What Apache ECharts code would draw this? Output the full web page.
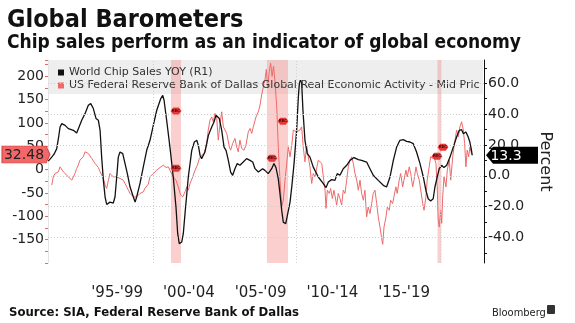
<!DOCTYPE html>
<html><head><meta charset="utf-8">
<script src="https://cdn.jsdelivr.net/npm/echarts@6/dist/echarts.min.js"></script>
<style>html,body{margin:0;padding:0;background:#fff}#c{width:575px;height:323px}</style>
</head><body><div id="c"></div>
<script>
// World Chip Sales YoY (%), right axis
const chipYears = [1992.70,1992.94,1993.10,1993.29,1993.42,1993.52,1993.64,1993.87,1994.10,1994.22,1994.45,1994.68,1994.80,1995.03,1995.26,1995.49,1995.66,1995.84,1996.03,1996.19,1996.31,1996.42,1996.54,1996.66,1996.77,1997.00,1997.23,1997.35,1997.47,1997.58,1997.70,1997.89,1998.05,1998.21,1998.40,1998.63,1998.75,1998.86,1999.09,1999.32,1999.56,1999.79,2000.02,2000.26,2000.54,2000.68,2000.77,2000.95,2001.18,2001.41,2001.60,2001.72,2001.83,2002.00,2002.11,2002.23,2002.46,2002.70,2002.88,2003.05,2003.16,2003.28,2003.39,2003.62,2003.86,2004.09,2004.25,2004.39,2004.51,2004.62,2004.79,2004.95,2005.09,2005.25,2005.41,2005.55,2005.71,2005.87,2006.06,2006.29,2006.52,2006.76,2006.95,2007.11,2007.34,2007.46,2007.64,2007.80,2008.03,2008.27,2008.43,2008.57,2008.73,2008.85,2008.97,2009.08,2009.25,2009.39,2009.55,2009.67,2009.83,2010.01,2010.13,2010.20,2010.27,2010.36,2010.45,2010.59,2010.75,2010.94,2011.17,2011.52,2011.87,2012.06,2012.22,2012.45,2012.68,2012.84,2013.03,2013.26,2013.50,2013.73,2014.01,2014.31,2014.54,2014.89,2015.12,2015.35,2015.70,2016.05,2016.28,2016.52,2016.75,2016.98,2017.21,2017.44,2017.68,2017.91,2018.14,2018.37,2018.61,2018.84,2019.02,2019.18,2019.35,2019.53,2019.65,2019.81,2019.95,2020.12,2020.28,2020.47,2020.70,2020.93,2021.16,2021.35,2021.51,2021.63,2021.81,2021.97,2022.08,2022.18,2022.25];
const chipYoY = [9.5,12.1,14.0,17.6,25.0,31.6,33.8,32.7,30.6,31.6,29.5,27.7,28.4,36.0,40.3,45.7,46.8,43.6,37.1,36.0,29.5,12.1,-3.0,-13.8,-18.6,-17.1,-17.7,-13.8,-0.8,12.1,15.4,14.4,7.9,1.4,-7.3,-13.8,-17.1,-13.8,-5.1,5.6,16.5,23.0,32.7,42.5,50.1,52.2,49.0,36.0,18.6,-0.8,-20.3,-37.6,-44.1,-43.0,-37.6,-24.6,-0.8,16.5,21.9,23.0,19.7,13.2,11.1,15.4,26.2,31.6,34.9,39.2,40.3,37.1,29.5,18.6,16.5,10.0,2.4,0.3,4.6,7.9,6.8,8.9,11.1,10.0,8.9,4.6,2.4,1.4,4.6,3.5,1.4,4.6,7.9,5.3,-1.9,-11.6,-22.5,-30.1,-31.1,-24.6,-17.1,-7.3,7.9,29.5,51.1,59.8,62.0,60.5,42.5,23.0,14.4,12.1,5.6,-0.8,-5.1,-7.7,-4.1,-2.5,-3.0,1.4,0.3,4.6,6.8,10.0,11.8,10.5,10.0,8.9,4.6,0.3,-3.0,-6.2,-7.3,-0.8,10.0,18.6,23.0,23.4,22.3,21.9,20.8,15.4,7.9,-0.8,-9.5,-14.9,-16.4,-14.9,-7.3,-0.8,4.6,6.8,5.3,6.8,12.1,18.6,25.1,29.5,29.9,27.3,28.4,25.1,22.0,17.5,13.3];

// Dallas Fed Global Real Economic Activity index, left axis
const dallasYears = [1992.94,1993.05,1993.17,1993.29,1993.40,1993.52,1993.64,1993.75,1993.87,1994.10,1994.33,1994.45,1994.56,1994.68,1994.79,1994.91,1995.03,1995.14,1995.26,1995.38,1995.49,1995.61,1995.73,1995.84,1995.96,1996.08,1996.19,1996.31,1996.43,1996.54,1996.66,1996.77,1996.89,1997.00,1997.12,1997.23,1997.35,1997.47,1997.58,1997.70,1997.82,1997.93,1998.05,1998.17,1998.28,1998.40,1998.52,1998.63,1998.75,1998.86,1998.98,1999.09,1999.21,1999.32,1999.44,1999.56,1999.67,1999.79,2000.02,2000.26,2000.49,2000.72,2000.91,2001.07,2001.23,2001.41,2001.60,2001.76,2001.93,2002.07,2002.23,2002.35,2002.46,2002.58,2002.77,2002.93,2003.09,2003.23,2003.39,2003.55,2003.74,2003.85,2003.97,2004.09,2004.20,2004.32,2004.44,2004.55,2004.67,2004.79,2004.90,2005.02,2005.14,2005.25,2005.32,2005.41,2005.55,2005.71,2005.83,2005.94,2006.06,2006.18,2006.34,2006.48,2006.64,2006.76,2006.88,2006.99,2007.18,2007.34,2007.46,2007.57,2007.69,2007.80,2007.90,2007.98,2008.10,2008.20,2008.30,2008.40,2008.50,2008.62,2008.73,2008.85,2008.97,2009.08,2009.20,2009.32,2009.43,2009.55,2009.67,2009.78,2009.90,2010.01,2010.13,2010.24,2010.36,2010.47,2010.59,2010.71,2010.82,2010.94,2011.06,2011.17,2011.29,2011.41,2011.52,2011.64,2011.76,2011.87,2011.99,2012.06,2012.15,2012.29,2012.38,2012.50,2012.61,2012.70,2012.80,2012.91,2013.03,2013.15,2013.26,2013.38,2013.50,2013.61,2013.73,2013.85,2013.96,2014.08,2014.20,2014.31,2014.43,2014.54,2014.66,2014.77,2014.89,2015.00,2015.12,2015.24,2015.35,2015.47,2015.59,2015.70,2015.82,2015.94,2016.01,2016.10,2016.24,2016.33,2016.47,2016.56,2016.70,2016.79,2016.93,2017.02,2017.16,2017.26,2017.40,2017.49,2017.63,2017.72,2017.86,2017.96,2018.10,2018.19,2018.33,2018.42,2018.56,2018.66,2018.80,2018.89,2019.02,2019.11,2019.25,2019.35,2019.49,2019.58,2019.72,2019.81,2019.88,2019.95,2020.05,2020.12,2020.19,2020.28,2020.42,2020.51,2020.65,2020.75,2020.89,2020.98,2021.07,2021.16,2021.28,2021.39,2021.51,2021.63,2021.72,2021.81,2021.90,2022.00,2022.09,2022.21];
const dallasIdx = [-33,-15.4,-8.2,-11.8,-4.7,6,2.6,-4.7,-8.2,-15.4,-22.5,-15.4,-8.2,2.6,9.7,20.4,24,27.5,38.2,40.3,34.8,38.2,24,27.5,13.3,9.7,4.7,-4.7,-11.8,-18.9,-33.3,-40.3,-22.5,-8.2,-11.8,-15.4,-11.8,-15.4,-15.4,-18.9,-22.5,-22.5,-26,-36.9,-44,-51,-54.7,-58.4,-61.8,-58.4,-54.7,-51,-54.7,-47.6,-40,-36.9,-31,-15.4,-8.2,-1,4.7,9.7,4.7,6,-4.7,-15.4,-22.5,-36.9,-54.7,-58.4,-47.6,-36.9,-44,-29.6,-15.4,-1,9.7,24,31.1,33.3,56,84.8,106,113,102.6,120.6,110,63.3,99,124,91.8,95.5,77.7,74,49,41.8,56,67,49,38.2,63.3,45.5,41.8,52.6,81,88.4,77.7,91.8,113,124,138.4,160,177.7,192,215,175,210,228,200,222,190,135,49,-22.5,-80,-65,-22.5,13.3,49,27.5,52.6,84.8,88.4,81,84.8,84.8,91.8,49,16.7,52.6,27.5,6,-29.6,-8.2,-15.4,-11.8,20.4,24,13.3,-15.4,-44,-83,-44,-51,-40.3,-61.8,-44,-58.4,-76,-51,-61.8,-76,-44,-51,-22.5,6,20.4,27.5,13.3,-8.2,-22.5,-44,-22.5,-51,-65.5,-44,-101,-80,-94,-72.5,-51,-44,-72.5,-101,-123,-148,-160,-123,-101,-80,-87,-65.5,-72.5,-58.4,-36.9,-51,-22.5,-8.2,-36.9,-22.5,-1,-15.4,6,-8.2,-36.9,-22.5,6,-8.2,-22.5,-44,-72.5,-87,-58.4,-22.5,6,27.5,24,29,13.3,-36.9,-108,-123,-87,-115,-58.4,-15.4,-36.9,-1,20.4,-22.5,27.5,49,67,84.8,70.4,91.8,102.6,84.8,56,6,41.8,27.5,49,32.48];

const recessions = [[2001.25,2001.95],[2007.94,2009.41],[2019.83,2020.10]];
const xTickPos = [1997.5,2002.5,2007.5,2012.5,2017.5];
const xTickLabels = ["'95-'99","'00-'04","'05-'09","'10-'14","'15-'19"];
const rightLabelVals = [-40,-20,0,20,40,60];
const rightTickVals = [-50,-40,-30,-20,-10,0,10,20,30,40,50,60,70];
const vGridYears = [2000,2010,2020];
const recMarks = [[2001.6,125.5],[2001.6,3.2],[2008.29,24.7],[2009.06,104],[2020.21,48.3],[2019.79,29]];

const X_MIN = 1992.68, X_MAX = 2023.07;
const NAME_CHIP = 'World Chip Sales YOY (R1)';
const NAME_DAL = 'US Federal Reserve Bank of Dallas Global Real Economic Activity - Mid Price';
const FONT = "'DejaVu Sans', sans-serif";
const FONT_C = "'DejaVu Sans Condensed', 'DejaVu Sans', sans-serif";
const RED = '#ee6a6a';

const lastRed = dallasIdx[dallasIdx.length-1];
const lastChip = chipYoY[chipYoY.length-1];

const chart = echarts.init(document.getElementById('c'), null, {renderer:'canvas'});
chart.setOption({
  animation:false,
  backgroundColor:'#fff',
  title:[
    {text:'Global Barometers', left:2, top:3, textStyle:{fontSize:25, fontWeight:'bold', color:'#111', fontFamily:FONT_C}},
    {text:'Chip sales perform as an indicator of global economy', left:2, top:29, textStyle:{fontSize:19, fontWeight:'bold', color:'#111', fontFamily:FONT_C}},
    {text:'Source: SIA, Federal Reserve Bank of Dallas', left:4, top:301, textStyle:{fontSize:13, fontWeight:'bold', color:'#111', fontFamily:FONT_C}},
    {text:'Bloomberg', left:487, top:303, textStyle:{fontSize:11, fontWeight:'normal', color:'#222', fontFamily:FONT_C}}
  ],
  graphic:[
    {type:'rect', shape:{x:49,y:60,width:434,height:34}, style:{fill:'#eeeeee'}, z:1, silent:true},
    {type:'rect', shape:{x:547,y:305,width:8,height:9,r:1}, style:{fill:'#333'}, z:1, silent:true}
  ],
  legend:{
    data:[NAME_CHIP, NAME_DAL], orient:'vertical', left:53, top:62,
    itemWidth:6, itemHeight:6, itemGap:2, icon:'rect', selectedMode:false,
    textStyle:{fontSize:11, color:'#333', fontFamily:FONT, width:416, overflow:'truncate', ellipsis:''}
  },
  grid:{left:48, right:91, top:60, bottom:60, containLabel:false},
  xAxis:{
    type:'value', min:X_MIN, max:X_MAX,
    axisLine:{show:false}, axisTick:{show:false}, splitLine:{show:false},
    axisLabel:{customValues:xTickPos, formatter:v=>xTickLabels[xTickPos.indexOf(v)], fontSize:15, color:'#222', fontFamily:FONT, margin:23}
  },
  yAxis:[
    {type:'value', position:'left', min:-200, max:235, interval:50,
     axisLine:{show:true, lineStyle:{color:'#e4e4e4'}},
     axisTick:{show:true, length:3, lineStyle:{color:'#e46a6a'}},
     minorTick:{show:true, splitNumber:2, length:3, lineStyle:{color:'#e46a6a'}},
     splitLine:{show:false},
     axisLabel:{showMinLabel:false, showMaxLabel:false, fontSize:14, color:'#222', fontFamily:FONT, margin:4}
    },
    {type:'value', position:'right', min:-56.6, max:75.1,
     name:'Percent', nameLocation:'middle', nameRotate:-90, nameGap:53,
     nameTextStyle:{fontSize:16, color:'#222', fontFamily:FONT},
     axisLine:{show:true, lineStyle:{color:'#111'}},
     axisTick:{show:true, length:3, customValues:rightTickVals, lineStyle:{color:'#111'}},
     splitLine:{show:false},
     axisLabel:{customValues:rightLabelVals, formatter:v=>v.toFixed(1), fontSize:14, color:'#222', fontFamily:FONT, margin:4}
    }
  ],
  series:[
    {name:'bands', type:'line', data:[], yAxisIndex:1, silent:true,
     markArea:{silent:true, itemStyle:{color:'rgba(247,140,140,0.42)'}, data:recessions.map(r=>[{xAxis:r[0]},{xAxis:r[1]}])},
     markLine:{silent:true, symbol:'none', label:{show:false}, lineStyle:{color:'#cfcfcf', type:[1,2], width:1},
       data:[...rightLabelVals.map(v=>({yAxis:v})), ...vGridYears.map(v=>({xAxis:v}))]}
    },
    {name:NAME_DAL, type:'line', yAxisIndex:0, showSymbol:false, symbol:'none',
     data:dallasYears.map((x,i)=>[x,dallasIdx[i]]),
     lineStyle:{color:RED, width:1}, itemStyle:{color:RED},
     markPoint:{silent:true, data:[
       {coord:[X_MIN,lastRed], symbol:'path://M0,0L44,0L48,8.5L44,17L0,17Z', symbolSize:[48,17], symbolOffset:[-22,0],
        itemStyle:{color:'#f26868', borderColor:'#c94040', borderWidth:0.6},
        label:{show:true, formatter:lastRed.toFixed(2), color:'#222', fontSize:14, fontFamily:FONT, offset:[-2,1]}},
       ...recMarks.map(p=>({coord:p, symbol:'path://M3,0L9,0L12,4L9,8L3,8L0,4Z', symbolSize:[11,7],
        itemStyle:{color:'#e53a3a'}, label:{show:true, formatter:'REC', fontSize:4, fontWeight:'bold', color:'#400'}}))
     ]}
    },
    {name:NAME_CHIP, type:'line', yAxisIndex:1, showSymbol:false, symbol:'none',
     data:chipYears.map((x,i)=>[x,chipYoY[i]]),
     lineStyle:{color:'#111', width:1.3}, itemStyle:{color:'#111'},
     markPoint:{silent:true, data:[
       {coord:[X_MAX,lastChip], symbol:'path://M0,8.5L7,0L52,0L52,17L7,17Z', symbolSize:[52,17], symbolOffset:[28,0],
        itemStyle:{color:'#000'},
        label:{show:true, formatter:lastChip.toFixed(1), color:'#fff', fontSize:14, fontFamily:FONT, offset:[-6,1]}}
     ]}
    }
  ]
});
</script></body></html>
